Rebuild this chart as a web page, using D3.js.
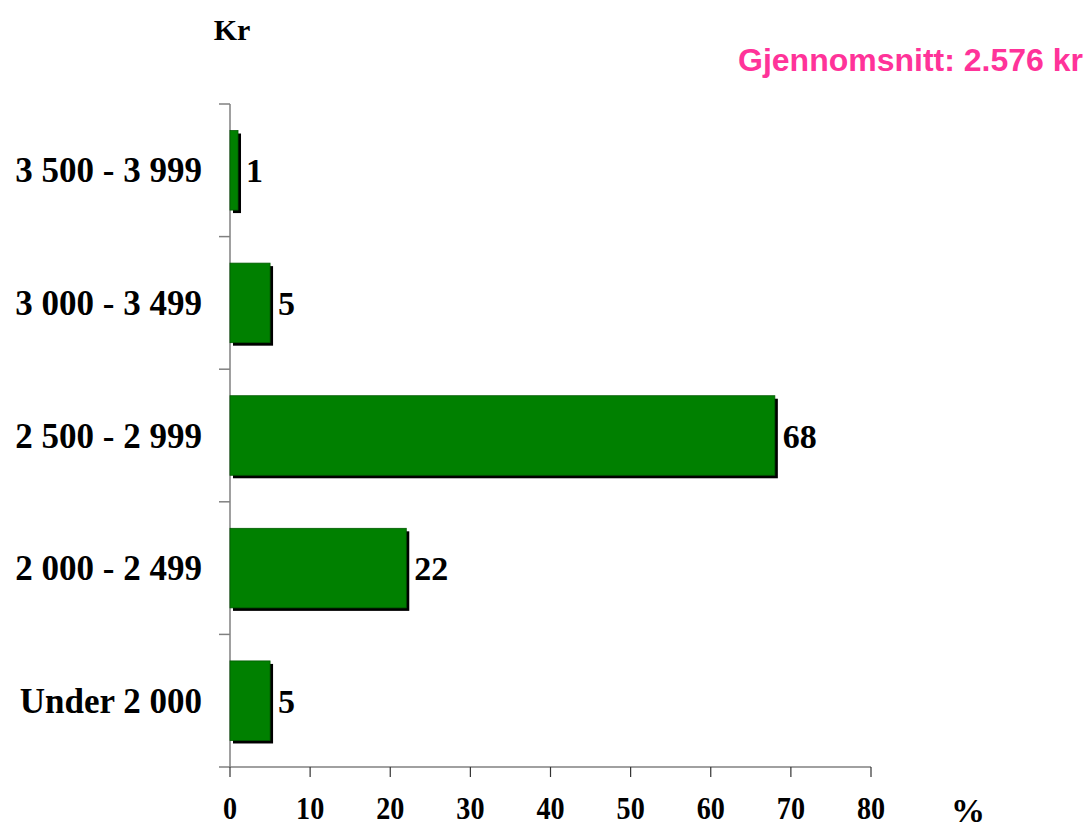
<!DOCTYPE html>
<html><head><meta charset="utf-8">
<script src="https://cdn.jsdelivr.net/npm/d3@7"></script>
<style>body{margin:0;background:#fff}svg text{font-family:"Liberation Serif","Times New Roman",serif;font-weight:bold}</style>
</head><body><svg id="c" width="1089" height="823"></svg>
<script>
const categories = ["3 500 - 3 999","3 000 - 3 499","2 500 - 2 999","2 000 - 2 499","Under 2 000"];
const values = [1,5,68,22,5];
const xTicks = [0,10,20,30,40,50,60,70,80];
const yTitle = "Kr";
const xTitle = "%";
const note = "Gjennomsnitt: 2.576 kr";

const svg = d3.select("#c");
const L = 230, R = 871, T = 104, B = 767;
const x = d3.scaleLinear().domain([0,80]).range([L,R]);
const y = d3.scaleBand().domain(categories).range([T,B]).paddingInner(0.4).paddingOuter(0.2);

svg.append("line").attr("x1",L).attr("x2",L).attr("y1",T).attr("y2",B).attr("stroke","#808080").attr("stroke-width",1.5);
svg.append("line").attr("x1",L).attr("x2",R).attr("y1",B).attr("y2",B).attr("stroke","#808080").attr("stroke-width",1.5);
const step = (B-T)/categories.length;
d3.range(categories.length+1).forEach(i=>{
  const yy = T + i*step;
  svg.append("line").attr("x1",L-11).attr("x2",L).attr("y1",yy).attr("y2",yy).attr("stroke","#808080").attr("stroke-width",1.5);
});
xTicks.forEach(t=>{
  svg.append("line").attr("x1",x(t)).attr("x2",x(t)).attr("y1",B).attr("y2",B+10).attr("stroke","#333").attr("stroke-width",1.2);
  svg.append("text").attr("transform",`translate(${x(t)},819) scale(0.88,1)`).attr("text-anchor","middle").attr("font-size",32).text(t);
});

const g = svg.append("g");
g.selectAll("rect.sh").data(values).join("rect")
  .attr("x",L+3).attr("y",(d,i)=>y(categories[i])+3)
  .attr("width",d=>x(d)-L).attr("height",y.bandwidth()).attr("fill","#000");
g.selectAll("rect.b").data(values).join("rect")
  .attr("x",L).attr("y",(d,i)=>y(categories[i]))
  .attr("width",d=>x(d)-L).attr("height",y.bandwidth()).attr("fill","#008000")
  .attr("stroke","#005a00").attr("stroke-width",0.8);

g.selectAll("text.v").data(values).join("text")
  .attr("x",d=>x(d)+8).attr("y",(d,i)=>y(categories[i])+y.bandwidth()/2+12)
  .attr("font-size",34).text(d=>d);

svg.selectAll("text.c").data(categories).join("text")
  .attr("x",202).attr("y",d=>y(d)+y.bandwidth()/2+12)
  .attr("text-anchor","end").attr("font-size",35).text(d=>d);

svg.append("text").attr("x",232).attr("y",40).attr("text-anchor","middle").attr("font-size",30).text(yTitle);
svg.append("text").attr("x",968).attr("y",822).attr("text-anchor","middle").attr("font-size",34).text(xTitle);
svg.append("text").attr("x",1083).attr("y",71).attr("text-anchor","end")
  .style("font-family","'Liberation Sans',Arial,sans-serif").attr("font-size",32).attr("fill","#FF3399").text(note);
</script></body></html>
